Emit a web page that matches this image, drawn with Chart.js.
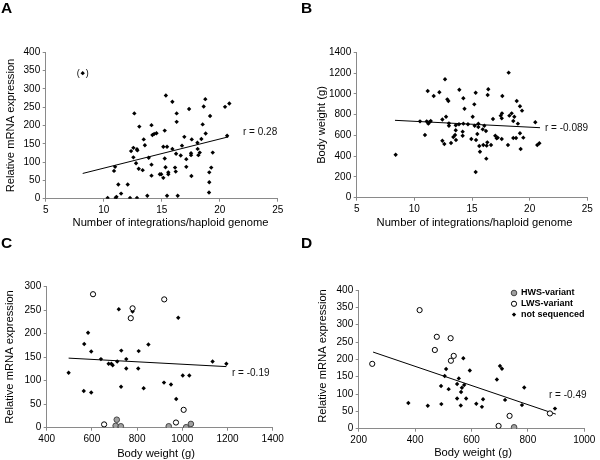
<!DOCTYPE html>
<html>
<head>
<meta charset="utf-8">
<script src="https://cdn.jsdelivr.net/npm/chart.js@4.4.0/dist/chart.umd.min.js"></script>
<style>
  body { margin: 0; background: #fff; }
  #wrap { position: relative; width: 600px; height: 460px; }
  .panel { position: absolute; width: 300px; height: 230px; }
  .letter { position: absolute; font: bold 15.5px "Liberation Sans", Arial, sans-serif; line-height: 1; }
</style>
</head>
<body>
<div id="wrap">
  <div class="panel" style="left:0;top:0"><canvas id="chartA" width="300" height="230"></canvas></div>
  <div class="panel" style="left:300px;top:0"><canvas id="chartB" width="300" height="230"></canvas></div>
  <div class="panel" style="left:0;top:230px"><canvas id="chartC" width="300" height="230"></canvas></div>
  <div class="panel" style="left:300px;top:230px"><canvas id="chartD" width="300" height="230"></canvas></div>
  <div class="letter" style="left:1px;top:0">A</div>
  <div class="letter" style="left:301px;top:0">B</div>
  <div class="letter" style="left:1px;top:235px">C</div>
  <div class="letter" style="left:301px;top:235px">D</div>
</div>
<script>
// ---- data ----
// A: integrations vs relative mRNA expression
var aPoints = [[10.34,2],[10.89,76],[10.98,87],[11.03,2],[11.1,5],[11.26,39],[11.5,14],[12.07,39],[12.27,2],[12.36,130],
  [12.56,139],[12.64,233],[12.56,113],[12.79,97],[12.87,2],[12.87,135],[12.9,132],[13.02,82],[13.07,197],[13.36,78],
  [13.45,162],[13.55,146],[13.76,8],[13.88,112],[14.12,201],[14.12,93],[14.12,63],[14.2,174],[14.35,177],[14.55,179],
  [14.84,67],[14.96,67],[15.14,57],[15.14,142],[15.26,186],[15.26,110],[15.33,86],[15.36,282],[15.46,142],[15.46,8],
  [15.57,72],[15.57,67],[15.92,265],[15.92,136],[16.15,85],[16.21,74],[16.24,123],[16.29,233],[16.29,210],[16.38,8],
  [16.64,118],[16.75,145],[16.95,169],[17.12,108],[17.12,87],[17.36,245],[17.53,124],[17.53,119],[17.56,62],[17.59,162],
  [18.08,153],[18.1,136],[18.16,119],[18.28,126],[18.42,163],[18.53,203],[18.62,252],[18.76,272],[18.79,178],[19.08,17],
  [19.1,45],[19.1,72],[19.17,226],[19.27,85],[19.4,126],[20.46,251],[20.64,172],[20.83,260]];
var aOutlier = [[8.19,343]];
var aFit = [[8.19,69],[20.75,169]];

// B: integrations vs body weight
var bPoints = [[8.38,414],[10.49,735],[10.92,604],[11.07,735],[11.16,1027],[11.21,713],[11.3,726],[11.42,738],[11.68,979],
  [12.17,1015],[12.43,753],[12.43,549],[12.6,517],[12.66,1140],[12.75,780],[12.86,947],[12.95,931],[13.0,716],[13.0,693],
  [13.18,527],[13.38,584],[13.53,604],[13.59,697],[13.59,649],[13.61,556],[13.87,707],[13.9,1040],[14.19,636],[14.19,597],
  [14.25,957],[14.25,713],[14.35,857],[14.65,707],[14.94,565],[15.06,780],[15.2,899],[15.23,693],[15.32,1011],[15.32,247],
  [15.35,556],[15.46,613],[15.55,713],[15.55,681],[15.63,498],[15.69,443],[15.93,658],[15.98,507],[16.07,693],[16.21,642],
  [16.24,376],[16.27,501],[16.33,533],[16.36,989],[16.41,1044],[16.65,507],[16.82,758],[17.02,597],[17.14,572],[17.23,578],
  [17.49,790],[17.58,764],[17.58,565],[17.63,979],[17.6,812],[18.12,507],[18.18,1204],[18.24,790],[18.44,812],[18.58,738],
  [18.58,575],[18.67,780],[18.82,575],[18.88,931],[18.98,713],[19.16,880],[19.16,620],[19.22,469],[19.34,838],[19.45,578],
  [20.49,726],[20.66,507],[20.84,524]];
var bFit = [[8.32,745],[20.9,674]];

// C: body weight vs relative mRNA expression
var cNotSeq = [[497,117],[564,78],[566,178],[583,202],[597,162],[597,75],[640,146],[674,136],[686,136],[692,133],[712,141],
  [719,252],[729,87],[730,164],[752,146],[752,126],[780,247],[805,126],[807,163],[829,84],[850,177],[919,96],[950,92],
  [973,61],[982,234],[1002,111],[1031,111],[1134,141],[1195,136]];
var cLws = [[605,284],[654,7],[772,233],[780,254],[920,273],[972,11],[1006,38]];
var cHws = [[710,17],[705,4],[728,3],[940,3],[1017,1],[1038,8]];
var cFit = [[497,148],[1195,130]];

// D: body weight vs relative mRNA expression
var dNotSeq = [[376,74],[445,66],[492,123],[493,71],[505,152],[510,172],[519,114],[549,129],[549,87],[555,145],[562,67],
  [563,106],[566,118],[571,203],[574,126],[581,87],[594,168],[617,72],[637,63],[641,85],[690,142],[701,181],[708,173],
  [719,83],[779,68],[787,119],[896,58]];
var dLws = [[248,187],[416,342],[470,227],[477,265],[526,261],[527,196],[537,210],[696,8],[735,37],[878,44]];
var dHws = [[751,4]];
var dFit = [[251,221],[899,42]];

var seriesNames = ['HWS-variant', 'LWS-variant', 'not sequenced'];
var rLabels = ['r = 0.28', 'r = -0.089', 'r = -0.19', 'r = -0.49'];
var xTitleInt = 'Number of integrations/haploid genome';
var xTitleBw = 'Body weight (g)';
var yTitleExpr = 'Relative mRNA expression';
var yTitleBw = 'Body weight (g)';

// ---- helpers ----
var FONT = '"Liberation Sans", Arial, sans-serif';
Chart.defaults.font.family = FONT;
Chart.defaults.color = '#000';

function pts(arr) {
    return arr.map(function(p) { return {x: p[0], y: p[1]}; });
}

function dotSet(arr, label) {
    return { label: label, data: pts(arr), pointStyle: 'rectRot', pointRadius: 2.2,
        backgroundColor: '#000', borderWidth: 0, pointHoverRadius: 2.2 };
}
function openSet(arr, label) {
    return { label: label, data: pts(arr), pointStyle: 'circle', pointRadius: 2.6,
        backgroundColor: '#fff', borderColor: '#000', borderWidth: 1 };
}
function hwsSet(arr, label) {
    return { label: label, data: pts(arr), pointStyle: 'circle', pointRadius: 2.8,
        backgroundColor: '#a0a0a0', borderColor: '#444', borderWidth: 1 };
}
function fitSet(arr) {
    return { type: 'line', label: 'fit', data: pts(arr), borderColor: '#000', borderWidth: 1,
        pointRadius: 0, fill: false, showLine: true };
}

// axis titles, r values, legend and the outlier brackets
var extrasPlugin = {
    id: 'extras',
    afterDatasetsDraw: function(chart, args, opts) {
        var ctx = chart.ctx;
        ctx.save();
        ctx.fillStyle = '#000';
        ctx.textAlign = 'center';
        ctx.textBaseline = 'middle';
        ctx.font = '11.2px ' + FONT;
        ctx.fillText(opts.xTitle.text, opts.xTitle.x, opts.xTitle.y);
        ctx.save();
        ctx.translate(opts.yTitle.x, opts.yTitle.y);
        ctx.rotate(-Math.PI / 2);
        ctx.fillText(opts.yTitle.text, 0, 0);
        ctx.restore();

        ctx.font = '10px ' + FONT;
        ctx.fillStyle = '#111';
        ctx.textAlign = 'left';
        ctx.fillText(opts.rText.text, opts.rText.x, opts.rText.y);

        if (opts.brackets) {
            var meta = chart.getDatasetMeta(opts.brackets);
            ctx.font = '9px ' + FONT;
            ctx.fillStyle = '#000';
            ctx.textAlign = 'center';
            meta.data.forEach(function(el) {
                ctx.fillText('(', el.x - 4.5, el.y);
                ctx.fillText(')', el.x + 4.5, el.y);
            });
        }
        if (opts.legend) {
            var lg = opts.legend;
            ctx.font = 'bold 9px ' + FONT;
            ctx.textAlign = 'left';
            lg.order.forEach(function(di, i) {
                var ds = chart.data.datasets[di];
                var y = lg.y + i * lg.gap;
                ctx.fillStyle = ds.backgroundColor;
                ctx.strokeStyle = ds.borderColor || ds.backgroundColor;
                ctx.lineWidth = ds.borderWidth;
                Chart.helpers.drawPoint(ctx, {pointStyle: ds.pointStyle, radius: ds.pointRadius, borderWidth: ds.borderWidth}, lg.x, y);
                ctx.fillStyle = '#000';
                ctx.fillText(ds.label, lg.x + 7, y);
            });
        }
        ctx.restore();
    }
};

function axis(min, max, step, fixed, isX) {
    return {
        type: 'linear',
        min: min, max: max,
        ticks: { stepSize: step, font: {size: 10}, color: '#000', padding: 2.5,
            callback: function(v) { return String(v); } },
        grid: { drawOnChartArea: false, drawTicks: true, tickLength: 3, color: '#8a8a8a' },
        border: { display: true, color: '#8a8a8a', width: 1 },
        afterFit: function(s) {
            if (isX) s.height = fixed; else s.width = fixed;
        }
    };
}

function makePanel(id, box, xs, ys, datasets, extras) {
    var ctx = document.getElementById(id).getContext('2d');
    return new Chart(ctx, {
        type: 'scatter',
        data: { datasets: datasets },
        options: {
            responsive: false,
            animation: false,
            layout: { padding: { left: 0, top: box.top, right: 300 - box.right, bottom: 0 } },
            plugins: { legend: { display: false }, tooltip: { enabled: false }, extras: extras },
            scales: {
                x: axis(xs[0], xs[1], xs[2], 230 - box.bottom, true),
                y: axis(ys[0], ys[1], ys[2], box.left, false)
            }
        },
        plugins: [extrasPlugin]
    });
}

makePanel('chartA', {left: 45.7, right: 277.7, top: 52.3, bottom: 198.7},
    [5, 25, 5], [0, 400, 50],
    [dotSet(aPoints, 'data'), dotSet(aOutlier, 'outlier'), fitSet(aFit)],
    { xTitle: {text: xTitleInt, x: 170.5, y: 222.5}, yTitle: {text: yTitleExpr, x: 10.5, y: 125.5},
      rText: {text: rLabels[0], x: 243, y: 132}, brackets: 1 });

makePanel('chartB', {left: 56.7, right: 287.3, top: 52.3, bottom: 197.7},
    [5, 25, 5], [0, 1400, 200],
    [dotSet(bPoints, 'data'), fitSet(bFit)],
    { xTitle: {text: xTitleInt, x: 174.5, y: 222.7}, yTitle: {text: yTitleBw, x: 21.5, y: 125},
      rText: {text: rLabels[1], x: 245, y: 128} });

makePanel('chartC', {left: 46.7, right: 272.7, top: 56.7, bottom: 197.7},
    [400, 1400, 200], [0, 300, 50],
    [hwsSet(cHws, seriesNames[0]), openSet(cLws, seriesNames[1]), dotSet(cNotSeq, seriesNames[2]), fitSet(cFit)],
    { xTitle: {text: xTitleBw, x: 156, y: 223.5}, yTitle: {text: yTitleExpr, x: 10, y: 127},
      rText: {text: rLabels[2], x: 232, y: 143} });

makePanel('chartD', {left: 58.7, right: 284.3, top: 60, bottom: 198.7},
    [200, 1000, 200], [0, 400, 50],
    [hwsSet(dHws, seriesNames[0]), openSet(dLws, seriesNames[1]), dotSet(dNotSeq, seriesNames[2]), fitSet(dFit)],
    { xTitle: {text: xTitleBw, x: 173, y: 222.7}, yTitle: {text: yTitleExpr, x: 23, y: 126},
      rText: {text: rLabels[3], x: 249, y: 165}, legend: {order: [0, 1, 2], x: 214, y: 63, gap: 10.8} });
</script>
</body>
</html>
